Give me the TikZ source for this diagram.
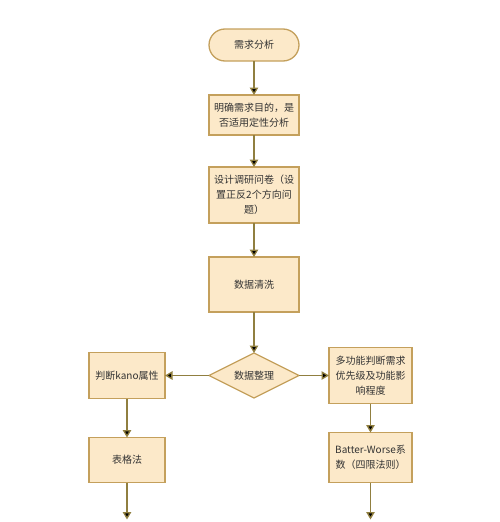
\documentclass[tikz,border=0pt]{standalone}
\usepackage{fontspec}
\newfontfamily\cjkfont{Noto Sans CJK SC}
\usepackage{tikz}
\usetikzlibrary{positioning,shapes.geometric,arrows.meta}
\definecolor{boxfill}{HTML}{FCE9C9}
\definecolor{boxline}{HTML}{C4A05C}
\definecolor{arrowline}{HTML}{907F40}
\definecolor{boxtext}{HTML}{333333}

\begin{document}
\begin{tikzpicture}[
mybox/.style={
  draw=boxline,
  fill=boxfill,
  line width=1.3pt,
  text=boxtext,
  font=\cjkfont\fontsize{10pt}{15pt}\selectfont,
  align=center,
  inner sep=2pt,
  outer sep=0pt,
  minimum width=90pt
  },
mystart/.style={mybox, rounded corners=16pt, minimum height=32pt},
mychoice/.style={mybox, diamond, aspect=2, minimum height=45pt, inner sep=0pt},
flow/.style={draw=arrowline, line width=1.3pt, -{Triangle[width=8.5pt,length=7.5pt]}}
]
\useasboundingbox (0,0) rectangle (500pt,-522pt);
\node[mystart] (need) at (254pt,-45pt) {需求分析};
\node[mybox, minimum height=40pt, below=34pt of need] (goal) {明确需求目的，是\\否适用定性分析};
\node[mybox, minimum height=56pt, below=32pt of goal] (survey) {设计调研问卷（设\\置正反2个方向问\\题）};
\node[mybox, minimum height=55pt, below=34pt of survey] (clean) {数据清洗};
\node[mychoice, below=41pt of clean] (sort) {数据整理};
\node[mybox, minimum width=76pt, minimum height=46pt, left=44pt of sort] (attr) {判断kano属性};
\node[mybox, minimum width=83pt, minimum height=56pt, right=30pt of sort] (rank) {多功能判断需求\\优先级及功能影\\响程度};
\node[mybox, minimum width=76pt, minimum height=45pt, below=39pt of attr] (table) {表格法};
\node[mybox, minimum width=83pt, minimum height=50pt, below=29pt of rank] (coef) {Batter-Worse系\\数（四限法则）};
\coordinate[below=37pt of table] (tableout);
\coordinate[below=37pt of coef] (coefout);
\path[flow]
  (need) edge (goal)
  (goal) edge (survey)
  (survey) edge (clean)
  (clean) edge (sort)
  (sort) edge (attr)
  (sort) edge (rank)
  (attr) edge (table)
  (rank) edge (coef)
  (table) edge (tableout)
  (coef) edge (coefout);
\end{tikzpicture}
\end{document}
